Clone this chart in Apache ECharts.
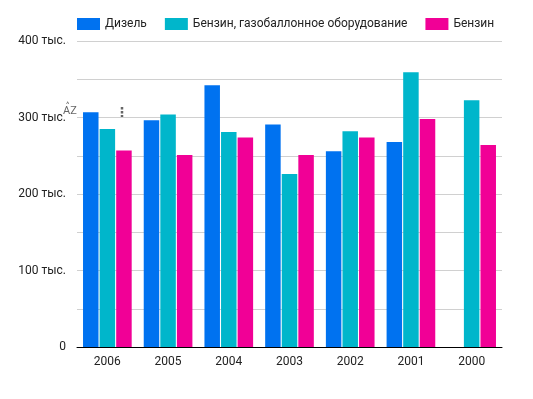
<!DOCTYPE html>
<html><head><meta charset="utf-8">
<script src="https://cdn.jsdelivr.net/npm/echarts@6/dist/echarts.min.js"></script>
<style>html,body{margin:0;padding:0;background:#fff}#c{width:533px;height:399px}</style>
</head><body><div id="c"></div>
<script>
const categories = ['2006','2005','2004','2003','2002','2001','2000'];
const diesel = [307000, 296500, 342000, 291000, 256000, 268000, null];
const petrolGas = [285000, 304000, 281000, 226000, 282000, 359000, 322500];
const petrol = [257000, 251000, 274000, 251000, 274000, 298000, 264000];
const seriesNames = ['Дизель', 'Бензин, газобаллонное оборудование', 'Бензин'];
const yTicks = [0, 100000, 200000, 300000, 400000];
const fmt = v => v === 0 ? '0' : (v / 1000) + ' тыс.';

const chart = echarts.init(document.getElementById('c'), null, {renderer: 'canvas'});
const font = 'Roboto';
chart.setOption({
  animation: false,
  color: ['#0072f0', '#00b6cb', '#f10096'],
  textStyle: {fontFamily: font},
  legend: {
    left: 77, top: 18, padding: 0, itemWidth: 23, itemHeight: 12, itemGap: 18,
    icon: 'rect',
    textStyle: {fontFamily: font, fontSize: 12, color: '#222'},
    data: seriesNames
  },
  grid: {left: 77, right: 31, top: 41, bottom: 52, containLabel: false},
  xAxis: {
    type: 'category', data: categories,
    axisLine: {lineStyle: {color: '#000', width: 1}},
    axisTick: {show: false},
    axisLabel: {fontFamily: font, fontSize: 12, color: '#222', margin: 9}
  },
  yAxis: {
    type: 'value', min: 0, max: 400000, interval: 50000,
    axisLine: {show: false}, axisTick: {show: false},
    splitLine: {lineStyle: {color: '#d0d0d0', width: 1}},
    axisLabel: {
      fontFamily: font, fontSize: 12, color: '#222', margin: 11,
      formatter: v => yTicks.includes(v) ? fmt(v) : ''
    }
  },
  series: [
    {name: seriesNames[0], type: 'bar', data: diesel, barWidth: 15.5, barGap: '7%'},
    {name: seriesNames[1], type: 'bar', data: petrolGas, barWidth: 15.5, barGap: '7%'},
    {name: seriesNames[2], type: 'bar', data: petrol, barWidth: 15.5, barGap: '7%'}
  ],
  graphic: [
    {type: 'text', left: 63, top: 106, style: {text: 'AZ', fontFamily: font, fontSize: 11, fill: '#666'}},
    {type: 'text', left: 66, top: 101, style: {text: '^', fontFamily: font, fontSize: 8, fill: '#666'}},
    {type: 'text', left: 115, top: 106, style: {text: '⋮', fontFamily: 'DejaVu Sans', fontSize: 14, fontWeight: 'bold', fill: '#666'}}
  ]
});
</script></body></html>
